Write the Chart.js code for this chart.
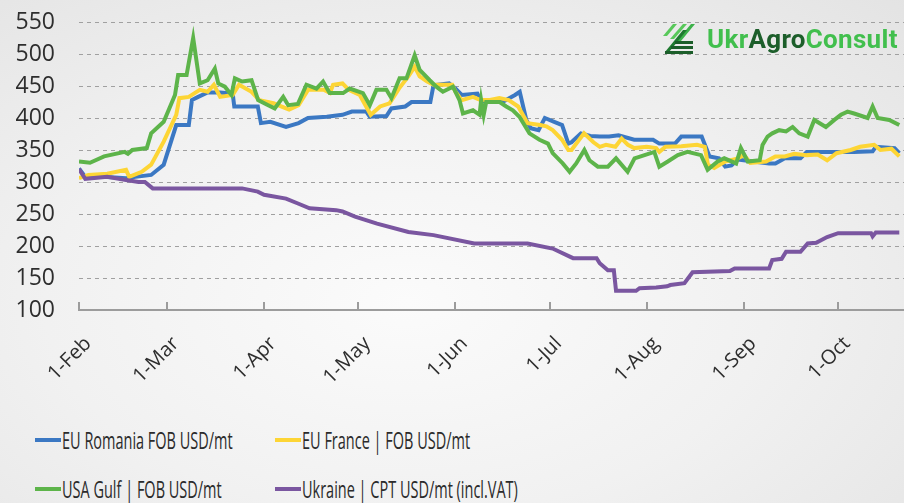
<!DOCTYPE html>
<html>
<head>
<meta charset="utf-8">
<script src="https://cdn.jsdelivr.net/npm/chart.js@4.4.1/dist/chart.umd.min.js"></script>
<style>
html, body { margin: 0; padding: 0; }
body {
    width: 904px; height: 503px; overflow: hidden; position: relative;
    background: radial-gradient(ellipse 80% 85% at 45% 60%, #fbfbfb 0%, #f1f1f1 50%, #e3e3e3 100%);
    font-family: 'Open Sans', sans-serif;
}
#wrap { position: absolute; left: 0; top: 0; width: 904px; height: 400px; }
.leg { position: absolute; display: flex; align-items: center; white-space: nowrap; }
.leg i { display: inline-block; width: 26px; height: 4px; margin-right: 1px; }
.leg span { display: inline-block; font-family: 'Open Sans', sans-serif; font-size: 23px; color: #2b2b2b; transform: scaleX(0.63); transform-origin: left center; }
#logo { position: absolute; left: 661px; top: 22px; display: flex; align-items: center; }
#logo span { font-family: 'Roboto', sans-serif; font-weight: 700; font-size: 26px; color: #41bf4d; margin-left: 12px; letter-spacing: 0.3px; }
#logo b { color: #1c5e2a; font-weight: 700; }
</style>
</head>
<body>
<div id="wrap"><canvas id="grainPrices"></canvas></div>
<div id="logo">
  <svg width="34" height="34" viewBox="0 0 34 34">
    <polygon points="2,14 12,2 16,2 6,14" fill="#58c85a"/>
    <polygon points="9,17 22,2 26,2 13,17" fill="#58c85a"/>
    <polygon points="16,19 30,2 34,2 20,19" fill="#3db24a"/>
    <polygon points="4,30 22,8 26,8 8,30" fill="#1f7a30"/>
    <rect x="14" y="19" width="18" height="3" fill="#1c5e2a"/>
    <rect x="10" y="24" width="22" height="3" fill="#1c5e2a"/>
    <rect x="4" y="29" width="28" height="3" fill="#1c5e2a"/>
  </svg>
  <span>Ukr<b>Agro</b>Consult</span>
</div>
<script>
var monthDays = [0, 28, 59, 89, 120, 150, 181, 212, 242];
var monthLabels = ['1-Feb', '1-Mar', '1-Apr', '1-May', '1-Jun', '1-Jul', '1-Aug', '1-Sep', '1-Oct'];

var seriesNames = ['EU Romania FOB USD/mt', 'EU France | FOB USD/mt', 'USA Gulf | FOB USD/mt', 'Ukraine | CPT USD/mt (incl.VAT)'];
var seriesColors = ['#3b78c3', '#fdd535', '#5db44a', '#7a56a0'];

// days counted from 1-Feb
var romaniaDays = [0,2,9,15,18,23,27,31,35,36,38,41,45,49,49.5,57,58,61,66,70,73,79,84,87,91.6,92.7,98,99.6,104,106,112,113,118,120,122,127,128,130,135,139,140.5,142.6,144,146.5,148.5,151.5,154,156,157,160,163,166,169,172,177,183,185,190,192,198.5,201,204,206,208,210,215,220,222,225,230,232,247,253,254,260,261.5];
var romaniaPrices = [321,308,308,306,308,311,327,389,389,428,433,440,440,438,418,418,392,394,386,392,400,402,405,410,410,402,403,415,418,425,425,451,454,446,436,438,428,425,425,436,441,397,384,381,400,394,389,360,362,376,372,371,371,373,366,366,360,360,371,371,340,337,324,326,335,332,329,329,337,337,347,347,348,355,353,345];

var franceDays = [0,3,9,15,16,20,23,27,31,32,35,38.5,41,43,45,49,51,55,57.5,62,66,67,70,73,78,80,81,84,86,89.5,93,96,99,102,105,107,108.6,111,113,119,120,122,125.6,128,131,134,137,140,143,147,149,151,154,156,157,161,164,166,168,171,173,175,177,181,184,185,187,192,197,199.5,200.5,202.5,206,210,212,214,219,222,225,228,232,235.5,238.5,241.5,246,249,253.5,255.5,259,261.5];
var francePrices = [306,311,313,319,308,316,327,363,405,431,433,444,441,452,433,436,452,441,428,423,415,413,420,444,444,439,452,454,444,436,405,418,423,446,465,480,465,457,452,452,441,428,433,428,428,431,428,418,392,389,387,381,366,350,350,376,362,355,358,355,368,358,353,355,353,347,355,356,358,355,327,322,332,337,342,330,332,340,340,344,342,343,334,345,350,355,358,350,352,340];

var gulfDays = [0,3.5,8,14.6,15.6,17,21.6,23,27,30.6,31.6,34.3,36.4,38.5,41,43.3,44.4,46.5,48.6,49.7,52,55,57.1,60.3,62.4,65.1,66.7,69.8,72.5,75.7,77.8,79.9,84.2,86.3,90.5,92.7,94.8,98,99.6,102.2,104.4,107,108.6,111.8,113.9,116,119.2,121.3,122.4,125.6,127.7,128.2,129,129.8,134.1,136.2,138.3,140.4,143.6,146.8,149.5,151,154.2,156.4,158.5,161.1,162.7,165.4,168.6,171.2,174.9,177.1,180.3,183.4,185,187.7,190.9,194,198.3,200.4,203.6,205.7,209.5,211,213.2,217,217.9,219.5,221,223.2,225.4,227.5,229.6,232.3,234.4,238.1,240.8,242.9,245,247.1,251.4,253,254.6,258.3,261.5];
var gulfPrices = [332,330,340,347,344,350,353,376,394,436,467,467,525,454,459,477,454,449,436,462,457,459,428,420,415,433,420,422,452,446,457,439,439,446,439,420,444,444,431,462,462,498,475,459,449,441,449,428,407,412,405,428,405,425,425,418,412,402,376,366,360,345,329,316,329,350,334,324,324,337,316,337,342,347,324,332,342,347,342,319,332,337,329,353,332,334,358,371,376,381,379,386,376,371,397,386,397,405,410,407,400,418,400,397,389];

var ukraineDays = [0,2,9,15,19,21,23.5,52,57,59,66,70,73.5,82,84,88,95,105,113,126,143,151,157.5,165,166,168.6,170.5,171.2,177.6,178.7,184,187.5,188.5,193,195.6,207.5,209,220,221,224,225.4,230,232.3,235,238.5,242,252.5,253,254,261.5];
var ukrainePrices = [320,305,308,303,300,300,290,290,285,280,274,266,259,256,254,246,235,222,217,204,204,196,181,181,173,162,162,130,130,134,135,137,139,142,159,161,165,165,178,180,191,191,204,205,214,220,220,215,221,221];

function toPoints(days, prices) {
    return days.map(function (d, i) { return { x: d, y: prices[i] }; });
}

var allDays = [romaniaDays, franceDays, gulfDays, ukraineDays];
var allPrices = [romaniaPrices, francePrices, gulfPrices, ukrainePrices];
var drawOrder = [4, 3, 2, 1];

var datasets = seriesNames.map(function (name, i) {
    return {
        label: name,
        data: toPoints(allDays[i], allPrices[i]),
        borderColor: seriesColors[i],
        backgroundColor: seriesColors[i],
        borderWidth: 4,
        pointRadius: 0,
        tension: 0,
        order: drawOrder[i]
    };
});

// small tick marks pointing up from the x axis
var innerTicks = {
    id: 'innerTicks',
    afterDraw: function (chart) {
        var x = chart.scales.x, ctx = chart.ctx;
        ctx.save();
        ctx.strokeStyle = '#9c9c9c';
        ctx.lineWidth = 2;
        x.ticks.forEach(function (t) {
            var px = Math.round(x.getPixelForValue(t.value));
            ctx.beginPath();
            ctx.moveTo(px, x.top);
            ctx.lineTo(px, x.top - 8);
            ctx.stroke();
        });
        ctx.restore();
    }
};

var ctx = document.getElementById('grainPrices').getContext('2d');
var chart = new Chart(ctx, {
    type: 'line',
    data: { datasets: datasets },
    plugins: [innerTicks],
    options: {
        responsive: true,
        maintainAspectRatio: false,
        animation: false,
        layout: { padding: 0 },
        plugins: { legend: { display: false }, tooltip: { enabled: false } },
        scales: {
            x: {
                type: 'linear',
                min: 0,
                max: 263,
                afterBuildTicks: function (scale) {
                    scale.ticks = monthDays.map(function (d) { return { value: d }; });
                },
                afterFit: function (scale) { scale.height = 90; },
                grid: { display: false },
                border: { display: true, color: '#9c9c9c', width: 2 },
                ticks: {
                    autoSkip: false,
                    minRotation: 45,
                    maxRotation: 45,
                    padding: 14,
                    labelOffset: 9,
                    color: '#2e2e2e',
                    font: { family: 'Open Sans', size: 20 },
                    callback: function (v, i) { return monthLabels[i]; }
                }
            },
            y: {
                min: 100,
                max: 550,
                afterFit: function (scale) {
                    scale.width = 79;
                    scale.paddingTop = 22;
                    scale.paddingBottom = 0;
                },
                grid: {
                    drawTicks: false,
                    lineWidth: 1,
                    color: function (c) { return c.tick && c.tick.value === 100 ? 'rgba(0,0,0,0)' : '#a0a0a0'; }
                },
                border: { display: false, dash: [4, 4] },
                ticks: {
                    stepSize: 50,
                    autoSkip: false,
                    padding: 24,
                    color: '#2e2e2e',
                    font: { family: 'Open Sans', size: 23, lineHeight: 1 }
                }
            }
        }
    }
});

// legend in two columns below the chart
seriesNames.forEach(function (name, i) {
    var el = document.createElement('div');
    el.className = 'leg';
    el.style.left = (35 + (i % 2) * 240) + 'px';
    el.style.top = (424 + Math.floor(i / 2) * 49) + 'px';
    var sw = document.createElement('i');
    sw.style.background = seriesColors[i];
    var tx = document.createElement('span');
    tx.textContent = name;
    el.appendChild(sw);
    el.appendChild(tx);
    document.body.appendChild(el);
});
</script>
</body>
</html>
